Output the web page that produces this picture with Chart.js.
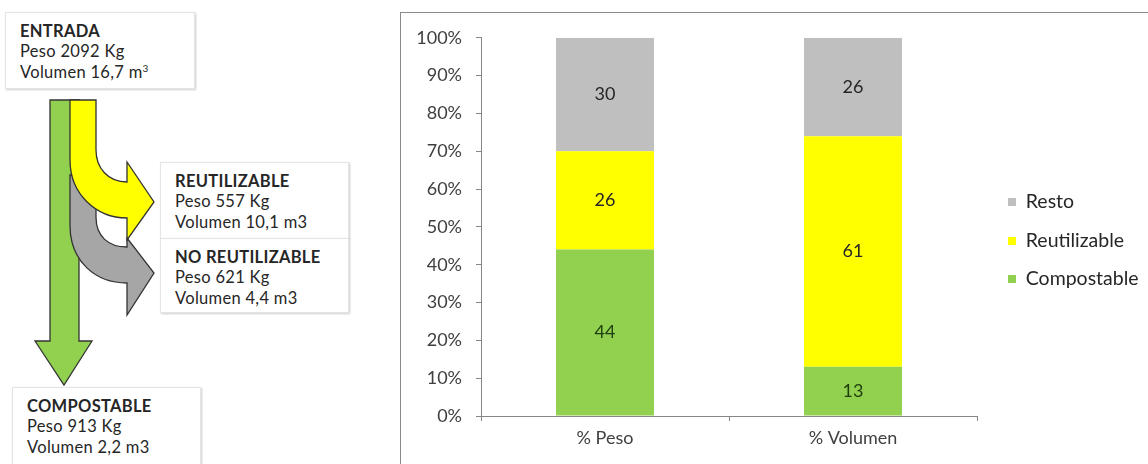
<!DOCTYPE html>
<html lang="es">
<head>
<meta charset="utf-8">
<title>Entrada, reutilizable y compostable</title>
<script src="https://cdn.jsdelivr.net/npm/chart.js@4.4.1/dist/chart.umd.min.js"></script>
<style>
  html, body { margin: 0; padding: 0; background: #fff; }
  body {
    width: 1148px; height: 464px; position: relative; overflow: hidden;
    font-family: Lato, "Open Sans", sans-serif; color: #262626;
  }
  .box {
    position: absolute; background: #fff; box-sizing: border-box;
    border: 1px solid #e4e4e4; box-shadow: 1px 1px 2px rgba(0, 0, 0, .2);
    font-size: 16.5px; letter-spacing: 0.3px; line-height: 20.5px; padding: 7.5px 0 0 14px;
  }
  .box p { margin: 0; white-space: nowrap; }
  .box b { font-weight: 700; }
  .box sup { font-size: 10px; vertical-align: 6px; line-height: 0; }
  #flow { position: absolute; left: 0; top: 0; }
  #frame {
    position: absolute; left: 400px; top: 12px; width: 760px; height: 470px;
    border: 1px solid #8a8a8a; box-sizing: border-box;
  }
  #chart { position: absolute; left: 0; top: 0; }
</style>
</head>
<body>

<svg id="flow" width="400" height="464" viewBox="0 0 400 464">
  <!-- compostable (down) -->
  <path d="M50,100 L79,100 L79,341 L92,341 L64,385 L35,341 L50,341 Z"
        fill="#92D050" stroke="#333" stroke-width="1.3" stroke-linejoin="miter"/>
  <!-- no reutilizable (grey) -->
  <path d="M70,175 L96,175 L96,217 C96,236 108,247 127,247 L127,238 L154,273 L127,315 L127,283 C96,283 70,262 70,225 Z"
        fill="#A6A6A6" stroke="#333" stroke-width="1.3"/>
  <!-- reutilizable (yellow) -->
  <path d="M70,100 L96,100 L96,150 C96,168 108,182 127,182 L127,162 L154,202 L127,240 L127,218 C96,218 70,194 70,160 Z"
        fill="#FFFF00" stroke="#333" stroke-width="1.3"/>
</svg>

<div class="box" style="left:5px; top:12px; width:190px; height:77px;">
  <p><b>ENTRADA</b></p>
  <p>Peso 2092 Kg</p>
  <p>Volumen 16,7 m<sup>3</sup></p>
</div>
<div class="box" style="left:160px; top:162px; width:189px; height:77px;">
  <p><b>REUTILIZABLE</b></p>
  <p>Peso 557 Kg</p>
  <p>Volumen 10,1 m3</p>
</div>
<div class="box" style="left:160px; top:238px; width:189px; height:75px;">
  <p><b>NO REUTILIZABLE</b></p>
  <p>Peso 621 Kg</p>
  <p>Volumen 4,4 m3</p>
</div>
<div class="box" style="left:12px; top:387px; width:189px; height:90px;">
  <p><b>COMPOSTABLE</b></p>
  <p>Peso 913 Kg</p>
  <p>Volumen 2,2 m3</p>
</div>

<div id="frame">
  <canvas id="chart" width="747" height="454"></canvas>
</div>

<script>
const categories = ["% Peso", "% Volumen"];
const compostable = [44, 13];
const reutilizable = [26, 61];
const resto = [30, 26];
const seriesNames = ["Compostable", "Reutilizable", "Resto"];
const seriesColors = ["#92D050", "#FFFF00", "#BFBFBF"];
const valueColors = ["#1F3D0C", "#262626", "#262626"];
const yMax = 100;
const yStep = 10;

const FONT = "Lato, 'Open Sans', sans-serif";

// small square, drawn at the right side of a wider image so the legend text sits right
function legendMarker(color) {
  const c = document.createElement("canvas");
  c.width = 20;
  c.height = 8;
  const g = c.getContext("2d");
  g.fillStyle = color;
  g.fillRect(12, 0, 8, 8);
  return c;
}

// value written in the middle of each stacked segment
const segmentValues = {
  id: "segmentValues",
  afterDatasetsDraw(chart) {
    const ctx = chart.ctx;
    ctx.save();
    ctx.font = "18px " + FONT;
    ctx.textAlign = "center";
    ctx.textBaseline = "middle";
    chart.data.datasets.forEach((ds, i) => {
      chart.getDatasetMeta(i).data.forEach((bar, j) => {
        ctx.fillStyle = valueColors[i];
        ctx.fillText(String(ds.data[j]), bar.x, (bar.y + bar.base) / 2);
      });
    });
    ctx.restore();
  },
};

new Chart(document.getElementById("chart"), {
  type: "bar",
  data: {
    labels: categories,
    datasets: [compostable, reutilizable, resto].map((vals, i) => ({
      label: seriesNames[i],
      data: vals,
      backgroundColor: seriesColors[i],
      borderWidth: 0,
      categoryPercentage: 1,
      barPercentage: 0.395,
    })),
  },
  options: {
    responsive: false,
    animation: false,
    layout: { padding: { top: 24, bottom: 23, left: 0, right: 0 } },
    plugins: {
      tooltip: { enabled: false },
      legend: {
        position: "right",
        reverse: true,
        maxWidth: 171,
        labels: {
          usePointStyle: true,
          pointStyleWidth: 20,
          padding: 19,
          color: "#262626",
          font: { size: 19.5, family: FONT },
          generateLabels(chart) {
            const items = Chart.defaults.plugins.legend.labels.generateLabels(chart);
            items.forEach((it) => { it.pointStyle = legendMarker(it.fillStyle); });
            return items;
          },
        },
      },
    },
    scales: {
      x: {
        stacked: true,
        grid: { drawOnChartArea: false, tickLength: 5, color: "#868686" },
        border: { color: "#868686" },
        ticks: { color: "#404040", font: { size: 18, family: FONT }, padding: 6 },
        afterFit: (s) => { s.height = 28; },
      },
      y: {
        stacked: true,
        min: 0,
        max: yMax,
        grid: { drawOnChartArea: false, tickLength: 5, color: "#868686" },
        border: { color: "#868686" },
        ticks: {
          stepSize: yStep,
          color: "#404040",
          font: { size: 18, family: FONT },
          padding: 14,
          callback: (v) => v + "%",
        },
        afterFit: (s) => { s.width = 80; },
      },
    },
  },
  plugins: [segmentValues],
});
</script>
</body>
</html>
